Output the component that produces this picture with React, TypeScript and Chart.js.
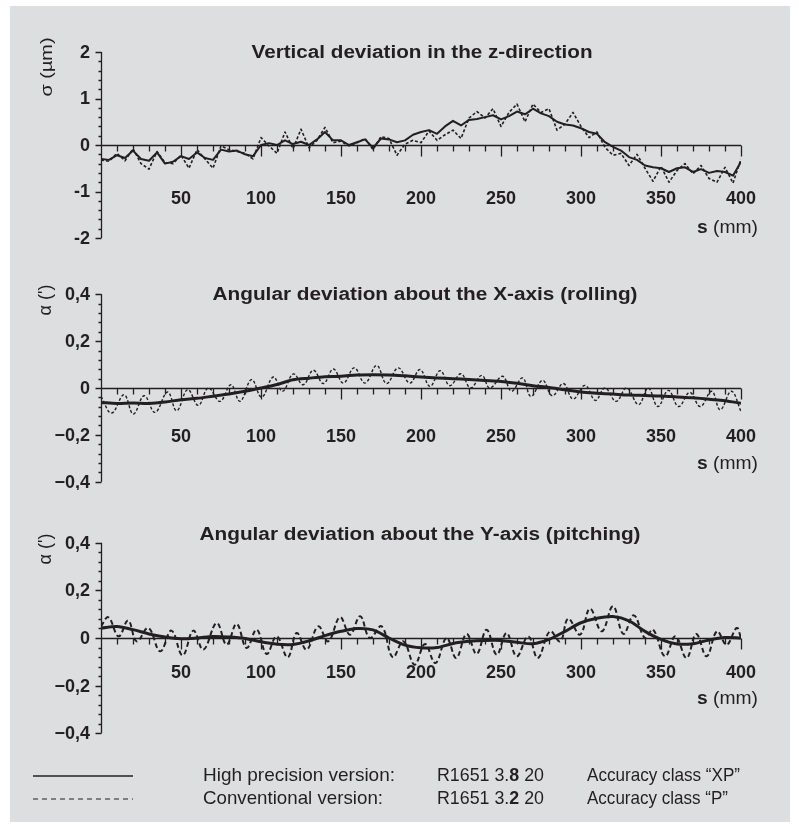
import React, { useEffect, useRef } from "react";
import { Chart, registerables } from "chart.js";

Chart.register(...registerables);

// ---------- data ----------
const P1_S = [0,5,10,15,20,25,30,35,40,45,50,55,60,65,70,75,80,85,90,95,100,105,110,115,120,125,130,135,140,145,150,155,160,165,170,175,180,185,190,195,200,205,210,215,220,225,230,235,240,245,250,255,260,265,270,275,280,285,290,295,300,305,310,315,320,325,330,335,340,345,350,355,360,365,370,375,380,385,390,395,400];
const P1_XP = [-0.30,-0.32,-0.22,-0.28,-0.12,-0.30,-0.34,-0.16,-0.40,-0.36,-0.24,-0.30,-0.16,-0.28,-0.32,-0.10,-0.14,-0.12,-0.20,-0.24,0.00,0.04,0.00,0.10,0.02,0.07,0.00,0.12,0.28,0.10,0.10,0.00,0.06,0.12,-0.06,0.14,0.12,0.06,0.10,0.22,0.28,0.32,0.24,0.40,0.52,0.42,0.54,0.56,0.60,0.64,0.55,0.62,0.72,0.66,0.78,0.68,0.62,0.50,0.44,0.42,0.36,0.28,0.24,0.06,-0.04,-0.12,-0.26,-0.32,-0.44,-0.48,-0.50,-0.58,-0.50,-0.48,-0.58,-0.52,-0.60,-0.56,-0.58,-0.66,-0.36];
const P1_P = [-0.32,-0.35,-0.18,-0.34,-0.08,-0.40,-0.52,-0.14,-0.38,-0.40,-0.22,-0.50,-0.10,-0.30,-0.50,-0.02,-0.10,-0.14,-0.18,-0.30,0.16,-0.02,-0.18,0.28,-0.08,0.34,-0.06,0.10,0.38,0.05,0.08,-0.02,0.05,0.14,-0.10,0.18,0.14,-0.22,0.02,0.10,0.05,0.30,0.10,0.22,0.32,0.14,0.58,0.72,0.58,0.78,0.40,0.70,0.88,0.50,0.88,0.70,0.78,0.32,0.45,0.70,0.40,0.16,0.28,-0.05,-0.22,-0.18,-0.44,-0.20,-0.50,-0.78,-0.46,-0.80,-0.55,-0.40,-0.62,-0.44,-0.72,-0.80,-0.48,-0.82,-0.30];

const S_10 = [0,10,20,30,40,50,60,70,80,90,100,110,120,130,140,150,160,170,180,190,200,210,220,230,240,250,260,270,280,290,300,310,320,330,340,350,360,370,380,390,400];
const P2_XP = [-0.062,-0.066,-0.064,-0.066,-0.060,-0.050,-0.044,-0.035,-0.026,-0.014,0.000,0.015,0.035,0.042,0.048,0.050,0.056,0.057,0.056,0.052,0.047,0.043,0.040,0.036,0.032,0.028,0.020,0.010,0.002,-0.008,-0.017,-0.022,-0.026,-0.030,-0.032,-0.034,-0.038,-0.042,-0.048,-0.054,-0.065];
const P2_S_P = [0,6.6,14.4,20.2,27,33.8,41.6,47.3,54.2,60.8,67.1,74.4,81.2,86.9,94.1,100.4,107.7,113.5,120.2,126.4,132.7,139,145.2,151.5,158.3,165,172.3,178.5,185.8,193,199.4,205.6,212,218,225,231,238,243,251,256.6,263.5,268.7,276,282,289,295,302.5,309,315,322,328.5,336,342,348,354.6,361,368,374.5,381.7,387,394,400];
const P2_P = [-0.036,-0.107,-0.029,-0.111,-0.033,-0.104,-0.017,-0.097,-0.007,-0.074,0.000,-0.057,0.014,-0.057,0.036,-0.039,0.047,-0.014,0.060,0.014,0.076,0.019,0.081,0.021,0.086,0.021,0.096,0.019,0.086,0.021,0.079,0.007,0.074,0.010,0.061,0.000,0.054,0.000,0.050,-0.014,0.043,-0.036,0.033,-0.033,0.019,-0.047,0.011,-0.053,0.000,-0.057,0.000,-0.071,0.000,-0.079,-0.010,-0.079,-0.019,-0.079,-0.014,-0.093,-0.014,-0.100];

const P3_XP = [0.042,0.048,0.035,0.017,0.004,-0.003,0.000,0.006,0.004,-0.002,-0.016,-0.026,-0.027,-0.012,0.010,0.028,0.040,0.034,0.000,-0.030,-0.041,-0.040,-0.023,-0.014,-0.010,-0.010,-0.018,-0.024,-0.006,0.028,0.064,0.083,0.090,0.072,0.028,-0.006,-0.025,-0.024,-0.008,0.002,0.000];
const P3_S_P = [0,4.6,11,17,22.3,29.6,37,44,51,57.7,64,72.3,78.5,84.8,91,97.3,103.5,109.8,116.7,122.3,128.5,135.8,142,149.4,155.6,162,168,175.4,182.3,189,196,202.5,209,216,222,228.5,234.8,241,247.3,253.5,259.8,267,273,280.6,287,292,299.4,305.6,313,320,326.5,333,340,345,352.5,359,366,372,378.5,385,391,397.3,400];
const P3_P = [0.049,0.087,0.007,0.073,-0.014,0.042,-0.056,0.031,-0.073,0.031,-0.049,0.063,-0.028,0.059,-0.042,0.035,-0.067,0.007,-0.081,0.021,-0.049,0.049,-0.014,0.087,0.014,0.091,0.000,0.049,-0.081,-0.014,-0.112,-0.025,-0.105,0.000,-0.084,0.017,-0.067,0.035,-0.070,0.021,-0.077,0.007,-0.084,0.028,-0.014,0.081,0.014,0.123,0.028,0.133,0.017,0.095,0.000,0.035,-0.077,0.007,-0.084,0.017,-0.077,0.028,-0.028,0.042,0.000];

const X_TICK_VALUES = [50,100,150,200,250,300,350,400];
const X_TICK_LABELS = ["50","100","150","200","250","300","350","400"];
const Y1_TICK_VALUES = [2,1,0,-1,-2];
const Y1_TICK_LABELS = ["2","1","0","-1","-2"];
const Y23_TICK_VALUES = [0.4,0.2,0,-0.2,-0.4];
const Y23_TICK_LABELS = ["0,4","0,2","0","\u22120,2","\u22120,4"];

// ---------- styling / layout ----------
const INK = "#231f20";
const BG = "#dddee0";
const FONT = '"Liberation Sans", Arial, sans-serif';
const CANVAS_LEFT = 10;
const CANVAS_W = 780;

type Series = { xs: number[]; ys: number[]; width: number; tension: number; dash: number[] };
type PanelCfg = {
  top: number; height: number; padTop: number; padBottom: number;
  yMin: number; yMax: number; yMinorStep: number;
  yTickValues: number[]; yTickLabels: string[];
  title: string; titleX: number; titleY: number; titleW: number;
  yTitle: string; yTitleX: number; yTitleY: number; yTitleLen: number; yTitleSize: number;
  xLabelY: number; unitY: number;
  legend?: boolean;
  series: Series[];
};

const PANELS: PanelCfg[] = [
  {
    top: 6, height: 244, padTop: 46, padBottom: 12,
    yMin: -2, yMax: 2, yMinorStep: 0.2,
    yTickValues: Y1_TICK_VALUES, yTickLabels: Y1_TICK_LABELS,
    title: "Vertical deviation in the z-direction", titleX: 422, titleY: 52, titleW: 341,
    yTitle: "\u03c3 (\u00b5m)", yTitleX: 47, yTitleY: 67, yTitleLen: 59, yTitleSize: 17,
    xLabelY: 198.5, unitY: 227,
    series: [
      { xs: P1_S, ys: P1_XP, width: 2, tension: 0, dash: [] },
      { xs: P1_S, ys: P1_P, width: 1.6, tension: 0, dash: [3, 2] },
    ],
  },
  {
    top: 250, height: 240, padTop: 44.3, padBottom: 8.3,
    yMin: -0.4, yMax: 0.4, yMinorStep: 0.04,
    yTickValues: Y23_TICK_VALUES, yTickLabels: Y23_TICK_LABELS,
    title: "Angular deviation about the X-axis (rolling)", titleX: 425, titleY: 294, titleW: 425,
    yTitle: "\u03b1 (')", yTitleX: 46, yTitleY: 300, yTitleLen: 0, yTitleSize: 18,
    xLabelY: 436, unitY: 463,
    series: [
      { xs: S_10, ys: P2_XP, width: 3, tension: 0.3, dash: [] },
      { xs: P2_S_P, ys: P2_P, width: 1.4, tension: 0.4, dash: [3, 2] },
    ],
  },
  {
    top: 490, height: 332, padTop: 52.7, padBottom: 88.7,
    yMin: -0.4, yMax: 0.4, yMinorStep: 0.04,
    yTickValues: Y23_TICK_VALUES, yTickLabels: Y23_TICK_LABELS,
    title: "Angular deviation about the Y-axis (pitching)", titleX: 420, titleY: 534, titleW: 441,
    yTitle: "\u03b1 (')", yTitleX: 46, yTitleY: 549, yTitleLen: 0, yTitleSize: 18,
    xLabelY: 672.5, unitY: 698,
    legend: true,
    series: [
      { xs: S_10, ys: P3_XP, width: 3, tension: 0.3, dash: [] },
      { xs: P3_S_P, ys: P3_P, width: 2, tension: 0.4, dash: [5, 3] },
    ],
  },
];

function fitText(ctx: CanvasRenderingContext2D, text: string, x: number, y: number, font: string, align: CanvasTextAlign, width?: number) {
  ctx.font = font;
  const m = ctx.measureText(text).width;
  const s = width ? width / m : 1;
  ctx.save();
  ctx.translate(x, y);
  ctx.scale(s, 1);
  ctx.textAlign = align;
  ctx.textBaseline = "middle";
  ctx.fillText(text, 0, 0);
  ctx.restore();
}

type Run = { t: string; bold?: boolean };
function runsWidth(ctx: CanvasRenderingContext2D, runs: Run[], size: number) {
  let w = 0;
  for (const r of runs) {
    ctx.font = `${r.bold ? "bold " : ""}${size}px ${FONT}`;
    w += ctx.measureText(r.t).width;
  }
  return w;
}
function drawRuns(ctx: CanvasRenderingContext2D, runs: Run[], x: number, y: number, size: number, target?: number) {
  const w = runsWidth(ctx, runs, size);
  const sx = target ? target / w : 1;
  ctx.save();
  ctx.translate(x, y);
  ctx.scale(sx, 1);
  ctx.textAlign = "left";
  ctx.textBaseline = "middle";
  let cx = 0;
  for (const r of runs) {
    ctx.font = `${r.bold ? "bold " : ""}${size}px ${FONT}`;
    ctx.fillText(r.t, cx, 0);
    cx += ctx.measureText(r.t).width;
  }
  ctx.restore();
}

function makeAxesPlugin(cfg: PanelCfg) {
  return {
    id: "panelAxes",
    beforeDatasetsDraw(chart: any) {
      const ctx: CanvasRenderingContext2D = chart.ctx;
      const xS = chart.scales.x;
      const yS = chart.scales.y;
      const ox = CANVAS_LEFT;
      const oy = cfg.top;
      ctx.save();
      ctx.strokeStyle = INK;
      ctx.fillStyle = INK;
      ctx.lineWidth = 1.3;
      const ax = Math.round(xS.getPixelForValue(0)) + 0.5;
      const yTop = yS.getPixelForValue(cfg.yMax);
      const yBot = yS.getPixelForValue(cfg.yMin);
      const y0 = Math.round(yS.getPixelForValue(0)) + 0.5;
      ctx.beginPath();
      ctx.moveTo(ax, yTop);
      ctx.lineTo(ax, yBot);
      ctx.moveTo(ax, y0);
      ctx.lineTo(xS.getPixelForValue(400), y0);
      const n = Math.round((cfg.yMax - cfg.yMin) / cfg.yMinorStep);
      for (let i = 0; i <= n; i++) {
        const py = Math.round(yS.getPixelForValue(cfg.yMin + i * cfg.yMinorStep)) + 0.5;
        ctx.moveTo(ax - 3, py);
        ctx.lineTo(ax, py);
      }
      cfg.yTickValues.forEach((v) => {
        const py = Math.round(yS.getPixelForValue(v)) + 0.5;
        ctx.moveTo(ax - 6, py);
        ctx.lineTo(ax, py);
      });
      for (let mm = 10; mm <= 400; mm += 10) {
        const px = Math.round(xS.getPixelForValue(mm)) + 0.5;
        const len = mm % 50 === 0 ? 11 : 6;
        ctx.moveTo(px, y0);
        ctx.lineTo(px, y0 + len);
      }
      ctx.stroke();

      // y tick labels
      cfg.yTickValues.forEach((v, i) => {
        fitText(ctx, cfg.yTickLabels[i], 90 - ox, yS.getPixelForValue(v) + 1, `bold 18px ${FONT}`, "right");
      });
      // x tick labels
      X_TICK_VALUES.forEach((v, i) => {
        fitText(ctx, X_TICK_LABELS[i], xS.getPixelForValue(v), cfg.xLabelY - oy + 1, `bold 18px ${FONT}`, "center");
      });
      // title
      fitText(ctx, cfg.title, cfg.titleX - ox, cfg.titleY - oy + 1, `bold 17.5px ${FONT}`, "center", cfg.titleW);
      // unit label "s (mm)"
      drawRuns(ctx, [{ t: "s", bold: true }, { t: " (mm)" }], 758 - ox - 61, cfg.unitY - oy + 1, 18, 61);
      // y title (rotated)
      {
        ctx.save();
        ctx.translate(cfg.yTitleX - ox, cfg.yTitleY - oy);
        ctx.rotate(-Math.PI / 2);
        ctx.font = `${cfg.yTitleSize}px ${FONT}`;
        const m = ctx.measureText(cfg.yTitle).width;
        if (cfg.yTitleLen) ctx.scale(cfg.yTitleLen / m, 1);
        ctx.textAlign = "center";
        ctx.textBaseline = "middle";
        ctx.fillText(cfg.yTitle, 0, 0);
        ctx.restore();
      }
      // legend
      if (cfg.legend) {
        ctx.lineWidth = 1.5;
        ctx.beginPath();
        ctx.moveTo(33 - ox, 776 - oy);
        ctx.lineTo(133 - ox, 776 - oy);
        ctx.stroke();
        ctx.setLineDash([5, 4]);
        ctx.lineWidth = 1.2;
        ctx.beginPath();
        ctx.moveTo(33 - ox, 799 - oy);
        ctx.lineTo(133 - ox, 799 - oy);
        ctx.stroke();
        ctx.setLineDash([]);
        const size = 19;
        drawRuns(ctx, [{ t: "High precision version:" }], 203 - ox, 776 - oy, size, 192);
        drawRuns(ctx, [{ t: "R1651 3." }, { t: "8", bold: true }, { t: " 20" }], 437 - ox, 776 - oy, size, 107);
        drawRuns(ctx, [{ t: "Accuracy class \u201cXP\u201d" }], 587 - ox, 776 - oy, size, 153);
        drawRuns(ctx, [{ t: "Conventional version:" }], 203 - ox, 799 - oy, size, 180);
        drawRuns(ctx, [{ t: "R1651 3." }, { t: "2", bold: true }, { t: " 20" }], 437 - ox, 799 - oy, size, 107);
        drawRuns(ctx, [{ t: "Accuracy class \u201cP\u201d" }], 587 - ox, 799 - oy, size, 141);
      }
      ctx.restore();
    },
  };
}

function Panel({ cfg }: { cfg: PanelCfg }) {
  const ref = useRef<HTMLCanvasElement>(null);
  useEffect(() => {
    const canvas = ref.current!;
    const chart = new Chart(canvas, {
      type: "line",
      data: {
        datasets: cfg.series.map((s) => ({
          data: s.xs.map((x, i) => ({ x, y: s.ys[i] })),
          borderColor: INK,
          backgroundColor: INK,
          borderWidth: s.width,
          borderDash: s.dash,
          tension: s.tension,
          pointRadius: 0,
          fill: false,
          borderCapStyle: "butt",
          borderJoinStyle: "round",
        })),
      },
      options: {
        animation: false,
        responsive: false,
        maintainAspectRatio: false,
        events: [],
        layout: { padding: { left: 101 - CANVAS_LEFT, right: CANVAS_LEFT + CANVAS_W - 741, top: cfg.padTop, bottom: cfg.padBottom } },
        scales: {
          x: { type: "linear", min: 0, max: 400, display: false },
          y: { type: "linear", min: cfg.yMin, max: cfg.yMax, display: false },
        },
        plugins: { legend: { display: false }, tooltip: { enabled: false }, title: { display: false } },
      } as any,
      plugins: [makeAxesPlugin(cfg)],
    });
    return () => chart.destroy();
  }, [cfg]);
  return (
    <canvas
      ref={ref}
      width={CANVAS_W}
      height={cfg.height}
      style={{ position: "absolute", left: CANVAS_LEFT, top: cfg.top, width: CANVAS_W, height: cfg.height }}
    />
  );
}

export default function App() {
  return (
    <div style={{ position: "absolute", left: 0, top: 0, width: 799, height: 829, background: "#ffffff" }}>
      <div style={{ position: "absolute", left: 10, top: 6, width: 780, height: 816, background: BG }} />
      {PANELS.map((p, i) => (
        <Panel key={i} cfg={p} />
      ))}
    </div>
  );
}
